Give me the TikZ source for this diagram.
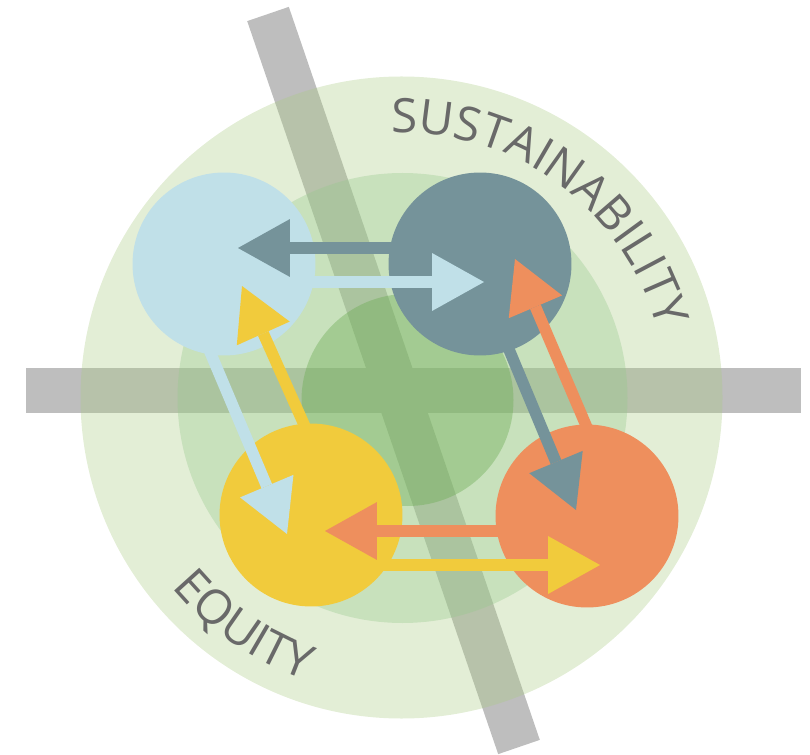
\documentclass[tikz,border=0pt]{standalone}
\usepackage{xcolor}
\usepackage{fontspec}
\newfontfamily\ringfont{Open Sans}
\usetikzlibrary{arrows.meta,decorations.text}

\definecolor{ringout}{RGB}{170,203,131}
\definecolor{ringmid}{RGB}{150,201,140}
\definecolor{ringin}{RGB}{108,173,83}
\definecolor{bargray}{RGB}{190,190,190}
\definecolor{paleblue}{RGB}{192,224,232}
\definecolor{slate}{RGB}{117,147,154}
\definecolor{sun}{RGB}{241,203,60}
\definecolor{coral}{RGB}{238,143,93}
\definecolor{labelgray}{RGB}{105,105,105}

\begin{document}
\begin{tikzpicture}[x=0.02cm,y=0.02cm,
		disc/.style={circle, minimum size=3.66cm, inner sep=0},
		flow/.style={-{Triangle[length=1.04cm,width=1.16cm,line width=0pt]}, line width=0.23cm}]
		% Parameters
		\def\cx{401.5}
		\def\cy{356.5}
		\def\rout{321}
		\def\rmid{225}
		\def\rin{106}
		\def\rtop{265}
		\def\rbot{298}
		\def\lblfont{\ringfont\fontsize{27}{31}\selectfont\color{labelgray}}
		
		\useasboundingbox (0,0) rectangle (810,754);
		
		%bars
		\fill[bargray] (26,341) rectangle (801,386);
		\draw[bargray, line width=0.88cm] (268,740) -- (519,7);
		
		%rings
		\fill[ringout, fill opacity=0.33] (\cx,\cy) circle[radius=\rout];
		\fill[ringmid, fill opacity=0.35] (\cx+1,\cy-0.5) circle[radius=\rmid];
		\fill[ringin, fill opacity=0.4] (\cx+6,\cy-2.5) circle[radius=\rin];
		
		%circles
		\node[disc, fill=paleblue] (lb) at (224,490) {};
		\node[disc, fill=slate] (sl) at (480,490) {};
		\node[disc, fill=sun] (ye) at (311,239) {};
		\node[disc, fill=coral] (co) at (587,238) {};
		
		%arrow ends
		\coordinate (s1) at (470,506);  \coordinate (t1) at (238,506);
		\coordinate (s2) at (300,472);  \coordinate (t2) at (484,472);
		\coordinate (s3) at (588,324);  \coordinate (t3) at (515,495);
		\coordinate (s4) at (505,414);  \coordinate (t4) at (576,244);
		\coordinate (s5) at (205,414);  \coordinate (t5) at (287,220);
		\coordinate (s6) at (311,314);  \coordinate (t6) at (242,468);
		\coordinate (s7) at (505,223);  \coordinate (t7) at (325,223);
		\coordinate (s8) at (380,189);  \coordinate (t8) at (600,189);
		
		%arrows
		\draw[flow, slate] (s1) -- (t1);
		\draw[flow, paleblue] (s2) -- (t2);
		\draw[flow, coral] (s3) -- (t3);
		\draw[flow, slate] (s4) -- (t4);
		\draw[flow, paleblue] (s5) -- (t5);
		\draw[flow, sun] (s6) -- (t6);
		\draw[flow, coral] (s7) -- (t7);
		\draw[flow, sun] (s8) -- (t8);
		
		%labels
		\path[decorate, decoration={text along path, text align=center,
			text={|\lblfont|SUSTAINABILITY}}]
			(\cx,\cy) ++(103.6:\rtop) arc[start angle=103.6, end angle=3.6, radius=\rtop];
		\path[decorate, decoration={text along path, text align=center,
			text={|\lblfont|EQUITY}}]
			(\cx,\cy) ++(185.4:\rbot) arc[start angle=185.4, end angle=285.4, radius=\rbot];
		
\end{tikzpicture}
\end{document}
